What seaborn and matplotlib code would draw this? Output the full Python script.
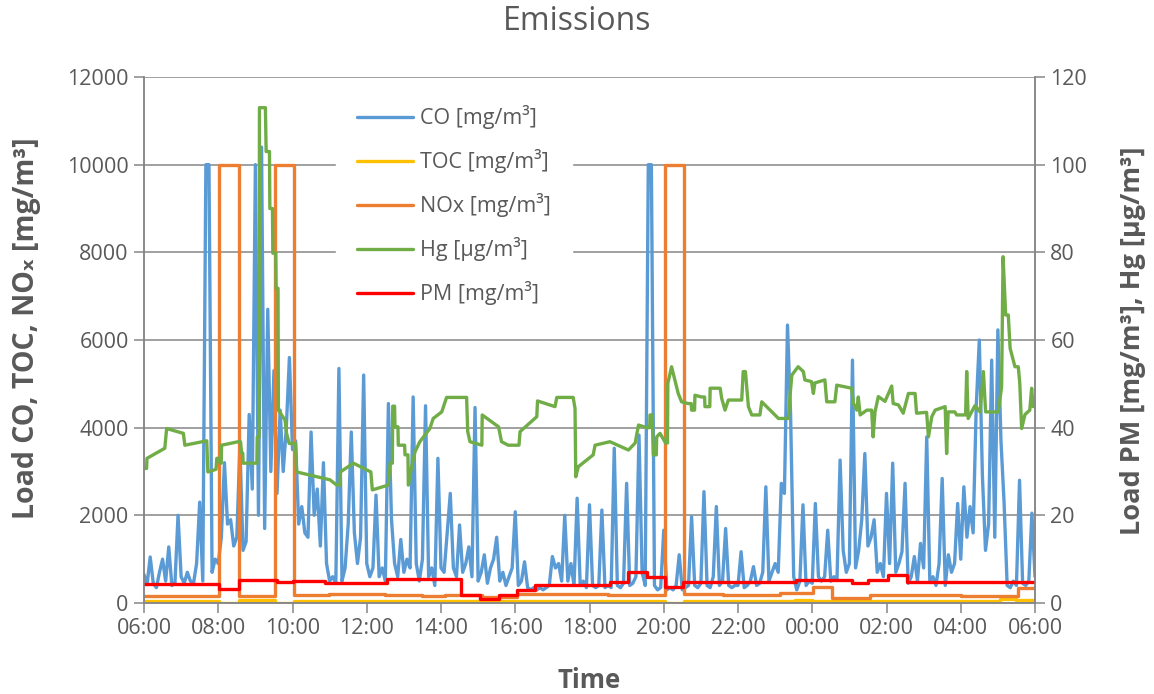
import numpy as np
import matplotlib
matplotlib.use("Agg")
import matplotlib.pyplot as plt
import seaborn as sns

hour_labels = ["06:00", "08:00", "10:00", "12:00", "14:00", "16:00", "18:00",
               "20:00", "22:00", "00:00", "02:00", "04:00", "06:00"]
left_ticks = [0, 2000, 4000, 6000, 8000, 10000, 12000]
right_ticks = [0, 20, 40, 60, 80, 100, 120]

# CO [mg/m3], one value every 5 minutes, one row per hour starting 06:00
co_values = [
    650, 420, 1050, 450, 350, 700, 1000, 500, 1280, 400, 450, 2000,
    600, 450, 700, 500, 450, 900, 2300, 500, 10000, 10000, 700, 1000,
    900, 1500, 3200, 1800, 1900, 1300, 1500, 3600, 1200, 1400, 4300, 2600,
    10000, 2000, 10400, 1700, 6700, 3000, 5300, 2500, 4400, 3000, 4000, 5600,
    3500, 3700, 1800, 2200, 1600, 1500, 3900, 2000, 2600, 1300, 3200, 900,
    500, 600, 450, 5350, 500, 800, 1800, 3900, 1600, 900, 1500, 5200,
    900, 600, 800, 2460, 600, 800, 500, 4550, 1900, 900, 600, 1450,
    700, 1000, 800, 4700, 900, 500, 1000, 4500, 600, 800, 400, 3300,
    800, 700, 1600, 2500, 800, 600, 1780, 700, 900, 1280, 600, 4460,
    500, 700, 1100, 450, 800, 1000, 1500, 500, 700, 400, 600, 800,
    2080, 400, 500, 940, 350, 300, 350, 300, 350, 300, 350, 400,
    1060, 800, 900, 500, 2000, 500, 900, 400, 2390, 400, 500, 350,
    2240, 400, 350, 400, 2120, 350, 400, 350, 3530, 400, 350, 450,
    2730, 400, 450, 600, 3830, 700, 400, 10000, 10000, 400, 300, 350,
    1660, 300, 350, 300, 400, 1100, 300, 350, 400, 1970, 400, 350,
    450, 2540, 400, 350, 600, 2200, 400, 500, 1700, 400, 350, 400,
    400, 1170, 350, 400, 500, 830, 400, 450, 700, 2650, 500, 700,
    900, 700, 2730, 2500, 6340, 4300, 600, 300, 500, 2240, 400, 500,
    450, 2270, 600, 500, 600, 1660, 500, 600, 550, 3260, 1200, 700,
    900, 5540, 800, 1200, 1900, 3410, 1300, 1500, 1900, 700, 900, 600,
    2500, 900, 3190, 700, 900, 1170, 2730, 450, 600, 1060, 500, 1360,
    800, 3790, 500, 600, 400, 900, 2840, 400, 1100, 700, 900, 2270,
    1000, 2650, 1500, 2200, 1600, 4480, 6000, 2900, 1200, 1800, 5540, 1500,
    6230, 3700, 2300, 400, 350, 500, 400, 2800, 450, 400, 500, 2050,
    600,
]
co_hours = np.arange(len(co_values)) / 12

# step series: hours after 06:00 where the value changes
toc_hours = [0, 2.03, 2.56, 3.53, 4.05, 14.03, 14.55, 17.54, 17.98, 20.0, 23.06, 23.5, 24]
toc_values = [35, 0, 60, 0, 40, 0, 35, 75, 35, 55, 100, 60, 60]

nox_hours = [0, 2.03, 2.56, 3.53, 4.05, 4.97, 6.49, 7.48, 8.1, 9.1, 10.05, 12.5,
             14.03, 14.55, 15.6, 17.13, 18.03, 18.54, 19.56, 22.0, 23.55, 24]
nox_values = [170, 10000, 160, 10000, 175, 215, 185, 150, 180, 145, 200, 180,
              10000, 215, 190, 220, 370, 110, 185, 150, 335, 335]

pm_hours = [0, 2.03, 2.56, 3.57, 4.02, 4.88, 6.54, 8.54, 9.05, 9.55, 10.04, 10.53,
            12.55, 13.05, 13.54, 14.03, 14.53, 17.55, 19.06, 19.51, 20.05, 20.54, 24]
pm_values = [4.3, 3.3, 5.2, 4.7, 5.1, 4.6, 5.5, 1.8, 0.8, 1.8, 3.0, 4.1,
             4.9, 7.1, 5.9, 3.7, 4.9, 5.25, 4.6, 5.25, 6.4, 4.9, 4.9]

# Hg [ug/m3], vertices of the trace
hg_hours = [0.0, 0.07, 0.08, 0.56, 0.61, 1.06, 1.10, 1.69, 1.72, 1.94, 1.96, 2.04,
            2.05, 2.08, 2.09, 2.54, 2.60, 2.63, 2.66, 2.67, 3.04, 3.05, 3.10, 3.11,
            3.27, 3.29, 3.38, 3.39, 3.46, 3.47, 3.55, 3.56, 3.61, 3.62, 3.80, 3.84,
            3.91, 4.08, 4.11, 5.01, 5.19, 5.28, 5.29, 5.64, 6.11, 6.15, 6.58, 6.63,
            6.69, 6.70, 6.75, 6.76, 6.84, 6.85, 7.02, 7.03, 7.11, 7.12, 7.21, 7.30,
            7.43, 7.70, 7.79, 8.02, 8.15, 8.69, 8.72, 8.78, 9.10, 9.11, 9.55, 9.63,
            9.81, 10.10, 10.13, 10.58, 10.60, 11.07, 11.12, 11.56, 11.61, 11.63, 11.70, 12.10,
            12.15, 12.55, 13.05, 13.23, 13.32, 13.54, 13.62, 13.63, 13.69, 13.72, 13.80, 13.81,
            13.90, 14.05, 14.10, 14.11, 14.21, 14.30, 14.39, 14.48, 14.66, 14.74, 14.75, 14.83,
            14.84, 15.02, 15.10, 15.11, 15.24, 15.25, 15.52, 15.56, 15.65, 15.74, 16.10, 16.14,
            16.20, 16.28, 16.37, 16.59, 16.64, 17.09, 17.36, 17.40, 17.45, 17.62, 17.76, 17.80,
            17.98, 18.03, 18.07, 18.34, 18.39, 18.61, 18.66, 19.06, 19.11, 19.20, 19.24, 19.29,
            19.47, 19.60, 19.64, 19.69, 19.78, 19.96, 20.14, 20.18, 20.32, 20.45, 20.59, 20.77,
            20.81, 21.08, 21.13, 21.22, 21.31, 21.58, 21.62, 21.66, 21.84, 21.89, 22.13, 22.16,
            22.20, 22.38, 22.52, 22.61, 22.67, 23.01, 23.10, 23.14, 23.21, 23.28, 23.33, 23.46,
            23.55, 23.59, 23.64, 23.73, 23.86, 23.91, 23.95, 24.0]
hg_values = [30.7, 30.7, 33.0, 35.3, 39.8, 38.7, 36.0, 37.0, 29.9, 30.5, 33.0, 33.0,
             31.9, 31.9, 36.0, 36.8, 36.8, 34.2, 34.2, 31.9, 31.9, 37.9, 37.9, 113,
             113, 103, 103, 90, 90, 79.8, 79.8, 71.8, 71.8, 44, 41.7, 38.7,
             36.4, 36.4, 29.9, 28.1, 26.9, 26.9, 29.9, 31.9, 29.9, 25.8, 26.9, 31.9,
             31.9, 44.9, 44.9, 40.2, 40.2, 36.0, 36.0, 33.8, 33.8, 26.9, 31.1, 34.5,
             36.8, 39.8, 42.1, 43.6, 46.9, 46.9, 39.1, 36.8, 36.0, 42.9, 40.2, 36.8,
             36.0, 36.0, 39.1, 42.5, 46.1, 44.8, 46.9, 46.9, 44.4, 28.8, 31.1, 33.8,
             36.0, 36.8, 34.9, 36.5, 40.6, 40.0, 40.0, 42.9, 42.9, 33.8, 33.8, 37.9,
             38.7, 36.5, 36.5, 50.1, 53.9, 50.9, 47.8, 45.9, 45.5, 45.5, 44, 44,
             47.4, 47.0, 47.0, 44.8, 44.8, 49, 49, 46.7, 44, 46.3, 46.3, 52.8,
             52.8, 44.8, 42.9, 42.9, 45.9, 42.1, 42.1, 47.1, 52, 53.9, 52.8, 50.9,
             50.5, 47.8, 50.2, 50.9, 45.9, 45.9, 49.7, 49, 45.5, 44, 47, 42.9,
             44, 44, 37.9, 43.6, 47.1, 46, 49.5, 45.5, 45.2, 43.3, 47.8, 47.8,
             43.3, 43.5, 37.9, 42.5, 44, 44.8, 34.1, 43.6, 43.6, 42.9, 42.9, 52.8,
             42.1, 45, 43.6, 52.8, 43.6, 43.6, 49.3, 79, 65.7, 65.7, 58.1, 53.9,
             53.9, 50.1, 39.8, 43, 44, 49, 44.8, 44.8]

text_grey = "#595959"
line_grey = "#868686"

sns.set_theme(style="white")
plt.rcParams["font.family"] = ["Open Sans", "DejaVu Sans"]

fig = plt.figure(figsize=(11.54, 6.94), dpi=100)
ax = fig.add_axes([144 / 1154, 1 - 603 / 694, 891 / 1154, 526 / 694])
ax2 = ax.twinx()

lw = 2.4
sns.lineplot(x=co_hours, y=co_values, ax=ax, color="#5B9BD5", lw=lw,
             estimator=None, sort=False, label="CO [mg/m³]")
sns.lineplot(x=toc_hours, y=toc_values, ax=ax, color="#FFC000", lw=lw,
             estimator=None, sort=False, drawstyle="steps-post", label="TOC [mg/m³]")
sns.lineplot(x=nox_hours, y=nox_values, ax=ax, color="#ED7D31", lw=lw,
             estimator=None, sort=False, drawstyle="steps-post", label="NOx [mg/m³]")
sns.lineplot(x=hg_hours, y=hg_values, ax=ax2, color="#70AD47", lw=lw,
             estimator=None, sort=False, label="Hg [µg/m³]")
sns.lineplot(x=pm_hours, y=pm_values, ax=ax2, color="#FF0000", lw=lw,
             estimator=None, sort=False, drawstyle="steps-post", label="PM [mg/m³]")

for a in (ax, ax2):
    if a.get_legend() is not None:
        a.get_legend().remove()

ax.set_xlim(0, 24)
ax.set_xticks(range(0, 25, 2))
ax.set_xticklabels(hour_labels)
ax.set_ylim(0, 12000)
ax.set_yticks(left_ticks)
ax2.set_ylim(0, 120)
ax2.set_yticks(right_ticks)
ax.set_xlabel("")
ax.set_ylabel("")
ax2.set_ylabel("")

ax.yaxis.grid(True, color=line_grey, lw=1.1)
ax.set_axisbelow(True)
for a in (ax, ax2):
    for side in a.spines:
        a.spines[side].set_color(line_grey)
        a.spines[side].set_linewidth(1.1)
    a.spines["top"].set_visible(False)
ax.tick_params(axis="both", which="major", bottom=True, left=True, direction="out",
               length=7, width=1.1, color=line_grey, labelsize=15.5, labelcolor=text_grey, pad=4)
ax2.tick_params(axis="y", right=True, direction="out", length=7, width=1.1,
                color=line_grey, labelsize=15.5, labelcolor=text_grey, pad=4)

h1, l1 = ax.get_legend_handles_labels()
h2, l2 = ax2.get_legend_handles_labels()
leg = ax2.legend(h1 + h2, l1 + l2, loc="upper left", bbox_to_anchor=(0.215, 0.987),
                 borderaxespad=0, frameon=True, facecolor="white", edgecolor="white",
                 framealpha=1, fontsize=15.5, handlelength=2.6, handletextpad=0.3,
                 labelspacing=0.93, borderpad=1.0, fancybox=False)
for t in leg.get_texts():
    t.set_color(text_grey)

fig.text(0.5, 1 - 22 / 694, "Emissions", ha="center", va="center",
         fontsize=23, color=text_grey)
fig.text(589.5 / 1154, 1 - 681 / 694, "Time", ha="center", va="center",
         fontsize=18.5, fontweight="bold", color=text_grey)
fig.text(27 / 1154, 1 - 328 / 694, "Load CO, TOC, NOₓ [mg/m³]", ha="center", va="center",
         rotation=90, fontsize=20.5, fontweight="bold", color=text_grey)
fig.text(1133 / 1154, 1 - 341 / 694, "Load PM [mg/m³], Hg [µg/m³]", ha="center", va="center",
         rotation=90, fontsize=19.5, fontweight="bold", color=text_grey)

fig.savefig("out.png", dpi=100)
